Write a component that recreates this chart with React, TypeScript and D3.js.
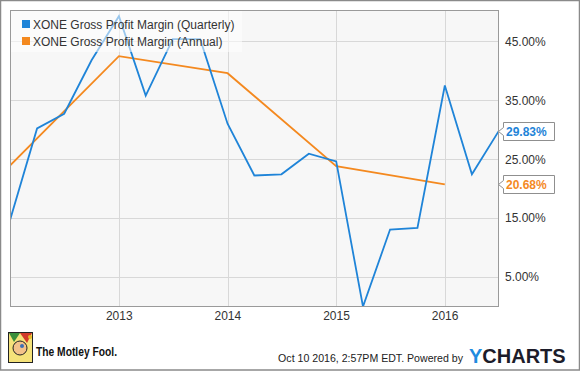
import React, { useEffect, useRef } from 'react';
import * as d3 from 'd3';

// quarterly gross margin (%), quarter end dates
const quarterDates = [
  '2011-12-31', '2012-03-31', '2012-06-30', '2012-09-30', '2012-12-31',
  '2013-03-31', '2013-06-30', '2013-09-30', '2013-12-31',
  '2014-03-31', '2014-06-30', '2014-09-30', '2014-12-31',
  '2015-03-31', '2015-06-30', '2015-09-30', '2015-12-31',
  '2016-03-31', '2016-06-30',
];
const quarterlyValues = [
  14.6, 30.2, 32.7, 41.8, 49.3, 35.8, 45.4, 45.4, 31.0,
  22.2, 22.4, 25.9, 24.6, -0.1, 13.0, 13.3, 37.5, 22.4, 29.83,
];

const annualDates = ['2011-12-31', '2012-12-31', '2013-12-31', '2014-12-31', '2015-12-31'];
const annualValues = [23.9, 42.5, 39.6, 23.8, 20.68];

const yTicks = [5, 15, 25, 35, 45];
const xTicks = ['2013-01-01', '2014-01-01', '2015-01-01', '2016-01-01'];

const seriesNames = ['XONE Gross Profit Margin (Quarterly)', 'XONE Gross Profit Margin (Annual)'];
const BLUE = '#1f84d8';
const ORANGE = '#f4891f';
const FONT = '"Liberation Sans", Arial, sans-serif';

export default function App() {
  const svgRef = useRef<SVGSVGElement>(null);

  useEffect(() => {
    if (!svgRef.current) return;
    const W = 580;
    const H = 371;
    const plot = { left: 10, right: 499, top: 10, bottom: 306 };

    const svg = d3.select(svgRef.current);
    svg.selectAll('*').remove();
    svg.attr('width', W).attr('height', H);

    const parse = d3.timeParse('%Y-%m-%d');
    const x = d3
      .scaleTime()
      .domain([parse('2011-12-31')!, parse('2016-06-30')!])
      .range([plot.left, plot.right]);
    const y = d3.scaleLinear().domain([0, 50.35]).range([plot.bottom, plot.top]);

    // page background + outer frame
    svg.append('rect').attr('width', W).attr('height', H).attr('fill', '#fff');
    svg
      .append('rect')
      .attr('x', 0.5)
      .attr('y', 0.5)
      .attr('width', W - 1)
      .attr('height', H - 1.5)
      .attr('fill', 'none')
      .attr('stroke', '#8a8a8a')
      .attr('stroke-width', 1.5);

    // plot area
    svg
      .append('rect')
      .attr('x', plot.left)
      .attr('y', plot.top)
      .attr('width', plot.right - plot.left)
      .attr('height', plot.bottom - plot.top)
      .attr('fill', '#f7f7f7');

    const grid = svg.append('g').attr('stroke', '#d8d8d8').attr('stroke-width', 1);
    grid
      .selectAll('.h')
      .data(yTicks)
      .enter()
      .append('line')
      .attr('x1', plot.left)
      .attr('x2', plot.right)
      .attr('y1', (d) => Math.round(y(d)) + 0.5)
      .attr('y2', (d) => Math.round(y(d)) + 0.5);
    grid
      .selectAll('.v')
      .data(xTicks)
      .enter()
      .append('line')
      .attr('x1', (d) => Math.round(x(parse(d)!)) + 0.5)
      .attr('x2', (d) => Math.round(x(parse(d)!)) + 0.5)
      .attr('y1', plot.top)
      .attr('y2', plot.bottom);

    // clip
    svg
      .append('clipPath')
      .attr('id', 'plotclip')
      .append('rect')
      .attr('x', plot.left)
      .attr('y', plot.top)
      .attr('width', plot.right - plot.left)
      .attr('height', plot.bottom - plot.top);

    const line = d3
      .line<[Date, number]>()
      .x((d) => x(d[0]))
      .y((d) => y(d[1]));

    const qData: [Date, number][] = quarterDates.map((d, i) => [parse(d)!, quarterlyValues[i]]);
    const aData: [Date, number][] = annualDates.map((d, i) => [parse(d)!, annualValues[i]]);

    const lines = svg.append('g').attr('clip-path', 'url(#plotclip)');
    lines
      .append('path')
      .datum(aData)
      .attr('d', line)
      .attr('fill', 'none')
      .attr('stroke', ORANGE)
      .attr('stroke-width', 1.8);
    lines
      .append('path')
      .datum(qData)
      .attr('d', line)
      .attr('fill', 'none')
      .attr('stroke', BLUE)
      .attr('stroke-width', 1.8);

    // legend
    svg
      .append('rect')
      .attr('x', plot.left)
      .attr('y', plot.top)
      .attr('width', 232)
      .attr('height', 42)
      .attr('fill', '#fff')
      .attr('opacity', 0.55);
    const legend = svg.append('g');
    [BLUE, ORANGE].forEach((c, i) => {
      legend
        .append('rect')
        .attr('x', 22)
        .attr('y', 20 + i * 17)
        .attr('width', 8)
        .attr('height', 8)
        .attr('fill', c);
      legend
        .append('text')
        .attr('x', 33)
        .attr('y', 28.5 + i * 17)
        .attr('font-family', FONT)
        .attr('font-size', 12)
        .attr('fill', '#333')
        .text(seriesNames[i]);
    });

    // plot border
    svg
      .append('rect')
      .attr('x', plot.left + 0.5)
      .attr('y', plot.top + 0.5)
      .attr('width', plot.right - plot.left - 1)
      .attr('height', plot.bottom - plot.top)
      .attr('fill', 'none')
      .attr('stroke', '#9a9a9a');

    // axes labels
    svg
      .append('g')
      .selectAll('text')
      .data(yTicks)
      .enter()
      .append('text')
      .attr('x', 505)
      .attr('y', (d) => y(d) + 4.5)
      .attr('font-family', FONT)
      .attr('font-size', 12)
      .attr('fill', '#333')
      .text((d) => d3.format('.2f')(d) + '%');

    svg
      .append('g')
      .selectAll('text')
      .data(xTicks)
      .enter()
      .append('text')
      .attr('x', (d) => x(parse(d)!))
      .attr('y', 320)
      .attr('text-anchor', 'middle')
      .attr('font-family', FONT)
      .attr('font-size', 12)
      .attr('fill', '#333')
      .text((d) => d.slice(0, 4));

    // last value flags
    const flags = [
      { v: quarterlyValues[quarterlyValues.length - 1], c: BLUE },
      { v: annualValues[annualValues.length - 1], c: ORANGE },
    ];
    flags.forEach((f) => {
      const cy = Math.round(y(f.v)) + 0.5;
      const g = svg.append('g');
      g.append('path')
        .attr(
          'd',
          `M498.5,${cy} L503.5,${cy - 4} L503.5,${cy - 9} L554.5,${cy - 9} L554.5,${cy + 9} L503.5,${cy + 9} L503.5,${cy + 4} Z`
        )
        .attr('fill', '#fff')
        .attr('stroke', '#8f8f8f');
      g.append('text')
        .attr('x', 506)
        .attr('y', cy + 4.5)
        .attr('font-family', FONT)
        .attr('font-size', 12)
        .attr('font-weight', 'bold')
        .attr('fill', f.c)
        .text(f.v.toFixed(2) + '%');
    });

    // footer: Motley Fool logo (simplified jester icon)
    const logo = svg.append('g');
    logo.append('rect').attr('x', 8.5).attr('y', 332.5).attr('width', 24).attr('height', 30).attr('fill', '#f5e27a').attr('stroke', '#222');
    logo.append('path').attr('d', 'M9,333 L20,333 L14,342 Z').attr('fill', '#3a8f3a');
    logo.append('path').attr('d', 'M20,333 L32,333 L27,343 Z').attr('fill', '#d23a2a');
    logo.append('circle').attr('cx', 20).attr('cy', 348).attr('r', 7).attr('fill', '#f3c28a').attr('stroke', '#222');
    logo.append('circle').attr('cx', 22).attr('cy', 346).attr('r', 2).attr('fill', '#3b6fb5');
    logo.append('circle').attr('cx', 30).attr('cy', 337).attr('r', 2).attr('fill', '#e8b928');
    svg
      .append('text')
      .attr('x', 36)
      .attr('y', 356)
      .attr('font-family', FONT)
      .attr('font-size', 13)
      .attr('font-weight', 'bold')
      .attr('textLength', 81)
      .attr('lengthAdjust', 'spacingAndGlyphs')
      .attr('fill', '#111')
      .text('The Motley Fool.');

    svg
      .append('text')
      .attr('x', 463)
      .attr('y', 362)
      .attr('text-anchor', 'end')
      .attr('font-family', FONT)
      .attr('font-size', 10.6)
      .attr('fill', '#222')
      .text('Oct 10 2016, 2:57PM EDT.  Powered by');

    const yc = svg
      .append('text')
      .attr('x', 469)
      .attr('y', 363)
      .attr('font-family', FONT)
      .attr('font-size', 20)
      .attr('font-weight', 'bold');
    yc.append('tspan').attr('fill', '#1f8be0').text('Y');
    yc.append('tspan').attr('fill', '#1c1c2a').text('CHARTS');
  }, []);

  return (
    <svg
      ref={svgRef}
      style={{ position: 'absolute', left: 0, top: 0, display: 'block' }}
    />
  );
}
